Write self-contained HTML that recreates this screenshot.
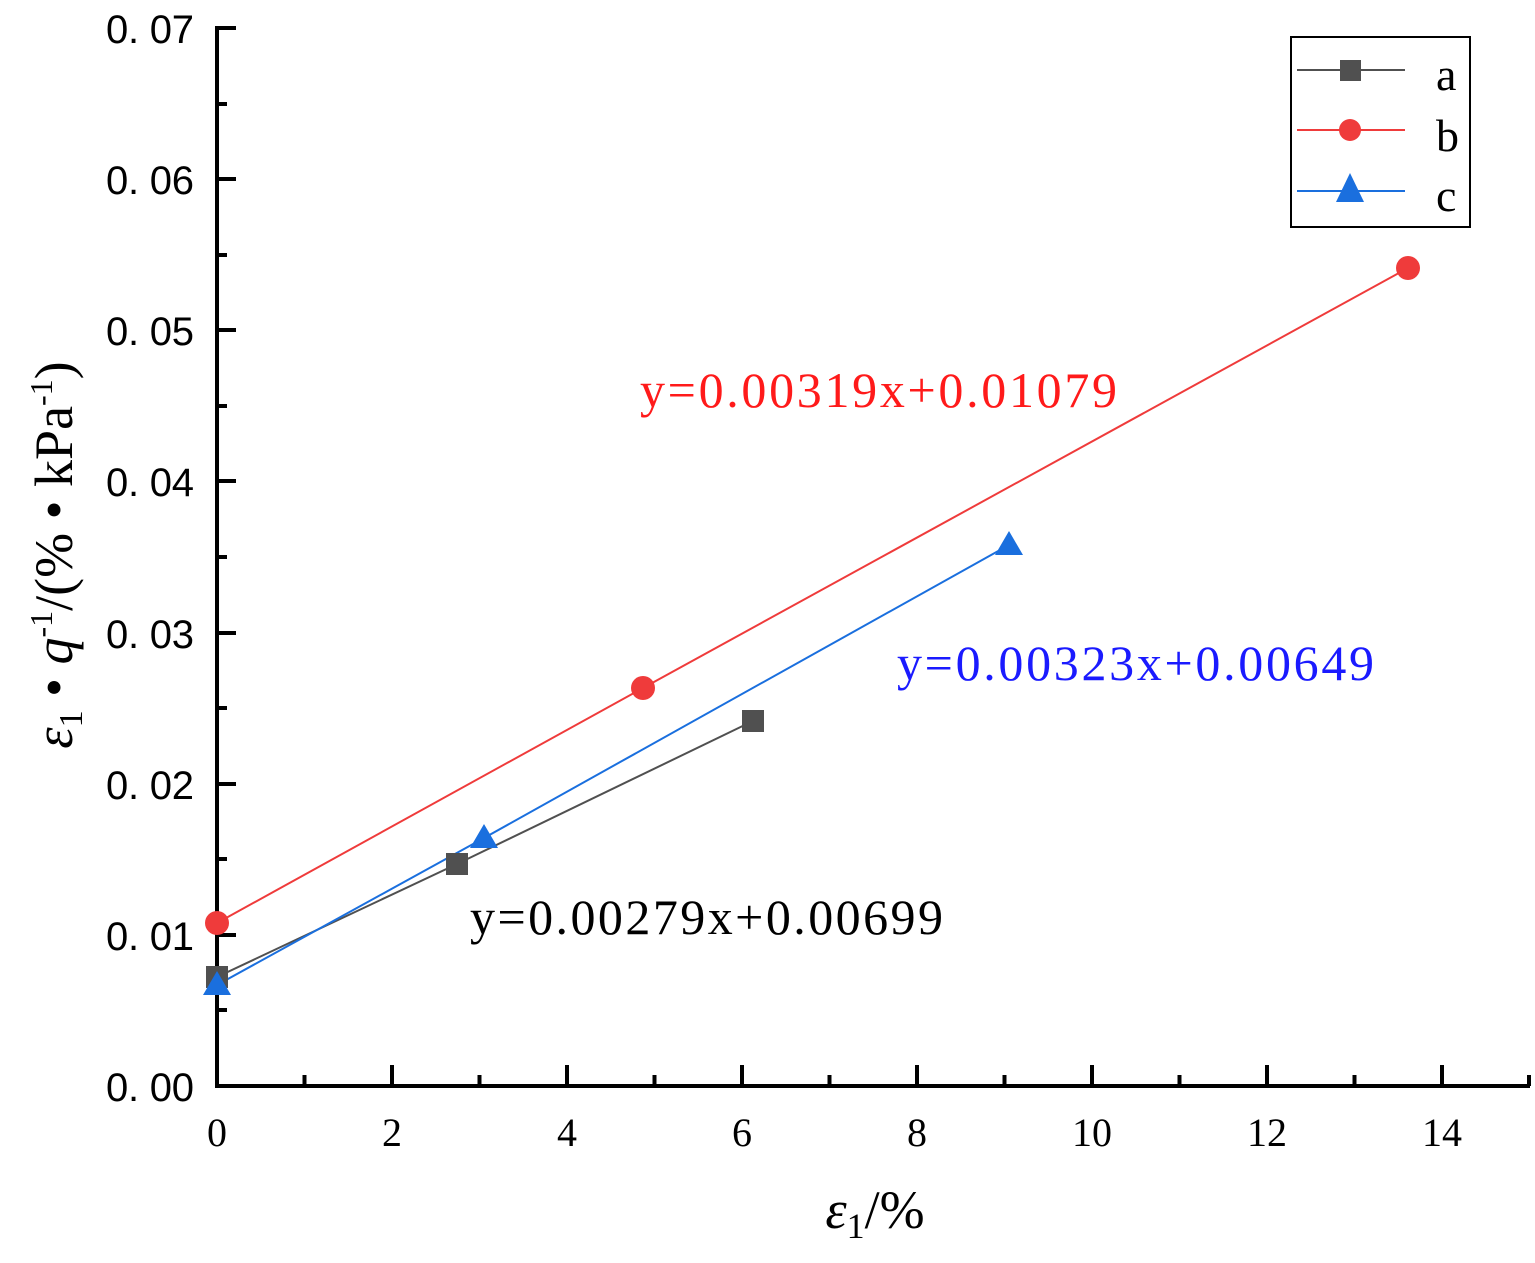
<!DOCTYPE html>
<html><head><meta charset="utf-8"><style>
html,body{margin:0;padding:0;background:#fff;}
svg{display:block;}
.s{font-family:"Liberation Serif","Noto Serif CJK SC",serif;}
.n{font-family:"Liberation Sans",sans-serif;}
</style></head><body>
<svg width="1535" height="1263" viewBox="0 0 1535 1263" xmlns="http://www.w3.org/2000/svg">
<g stroke="#000" stroke-width="4" fill="none">
<path d="M236 28 H217 V1086 H1530"/>
<path d="M217 179H236M217 330H236M217 481H236M217 633H236M217 784H236M217 935H236"/>
<path d="M217 104H227M217 255H227M217 406H227M217 557H227M217 708H227M217 859H227M217 1010H227"/>
<path d="M392 1086V1065M567 1086V1065M742 1086V1065M917 1086V1065M1092 1086V1065M1267 1086V1065M1442 1086V1065"/>
<path d="M304.5 1086V1075M479.5 1086V1075M654.5 1086V1075M829.5 1086V1075M1004.5 1086V1075M1179.5 1086V1075M1354.5 1086V1075M1529 1086V1075"/>
</g>
<g font-size="40" text-anchor="end" fill="#000" class="n">
<text class="n" x="194" y="43" textLength="88">0. 07</text>
<text class="n" x="194" y="194" textLength="88">0. 06</text>
<text class="n" x="194" y="345" textLength="88">0. 05</text>
<text class="n" x="194" y="496" textLength="88">0. 04</text>
<text class="n" x="194" y="648" textLength="88">0. 03</text>
<text class="n" x="194" y="799" textLength="88">0. 02</text>
<text class="n" x="194" y="950" textLength="88">0. 01</text>
<text class="n" x="194" y="1101" textLength="88">0. 00</text>
</g>
<g font-size="40" text-anchor="middle" fill="#000" class="s">
<text class="s" x="217" y="1146">0</text><text class="s" x="392" y="1146">2</text><text class="s" x="567" y="1146">4</text><text class="s" x="742" y="1146">6</text><text class="s" x="917" y="1146">8</text><text class="s" x="1092" y="1146">10</text><text class="s" x="1267" y="1146">12</text><text class="s" x="1442" y="1146">14</text>
</g>
<text class="s" x="875" y="1228" font-size="54" text-anchor="middle"><tspan font-style="italic">ε</tspan><tspan font-size="36" dy="10">1</tspan><tspan dy="-10">/%</tspan></text>
<text class="s" transform="translate(72,555) rotate(-90)" font-size="54" text-anchor="middle"><tspan font-style="italic">ε</tspan><tspan font-size="34" dy="10">1</tspan><tspan dy="-10"> • </tspan><tspan font-style="italic">q</tspan><tspan font-size="32" dy="-20">-1</tspan><tspan dy="20">/(% • kPa</tspan><tspan font-size="32" dy="-20">-1</tspan><tspan dy="20">)</tspan></text>
<polyline points="217,977 457,864 753,721" fill="none" stroke="#505050" stroke-width="2"/>
<polyline points="217,923 643,688 1408,268" fill="none" stroke="#ef3b3b" stroke-width="2"/>
<polyline points="217,985 484,838 1009,545" fill="none" stroke="#1a6fde" stroke-width="2"/>
<g fill="#505050"><rect x="206" y="966" width="22" height="22"/><rect x="446" y="853" width="22" height="22"/><rect x="742" y="710" width="22" height="22"/></g>
<g fill="#ef3b3b"><circle cx="217" cy="923" r="12"/><circle cx="643" cy="688" r="12"/><circle cx="1408" cy="268" r="12"/></g>
<g fill="#1a6fde"><polygon points="217,971 203,995 231,995"/><polygon points="484,824 470,848 498,848"/><polygon points="1009,531 995,555 1023,555"/></g>
<g font-size="50" class="s">
<text class="s" x="640" y="407" fill="#ff1a1a" textLength="477">y=0.00319x+0.01079</text>
<text class="s" x="897" y="680" fill="#1a1aff" textLength="477">y=0.00323x+0.00649</text>
<text class="s" x="470" y="934" fill="#000" textLength="473">y=0.00279x+0.00699</text>
</g>
<rect x="1291" y="37" width="179" height="190" fill="#fff" stroke="#000" stroke-width="2"/>
<line x1="1297" y1="70" x2="1405" y2="70" stroke="#505050" stroke-width="2"/>
<rect x="1340" y="60" width="21" height="21" fill="#505050"/>
<line x1="1297" y1="130" x2="1405" y2="130" stroke="#ef3b3b" stroke-width="2"/>
<circle cx="1350" cy="130" r="11" fill="#ef3b3b"/>
<line x1="1297" y1="191" x2="1405" y2="191" stroke="#1a6fde" stroke-width="2"/>
<polygon points="1350,173 1336,202 1364,202" fill="#1a6fde"/>
<g font-size="46" fill="#000" class="s"><text class="s" x="1436" y="90">a</text><text class="s" x="1436" y="151">b</text><text class="s" x="1436" y="211">c</text></g>
</svg>
</body></html>
